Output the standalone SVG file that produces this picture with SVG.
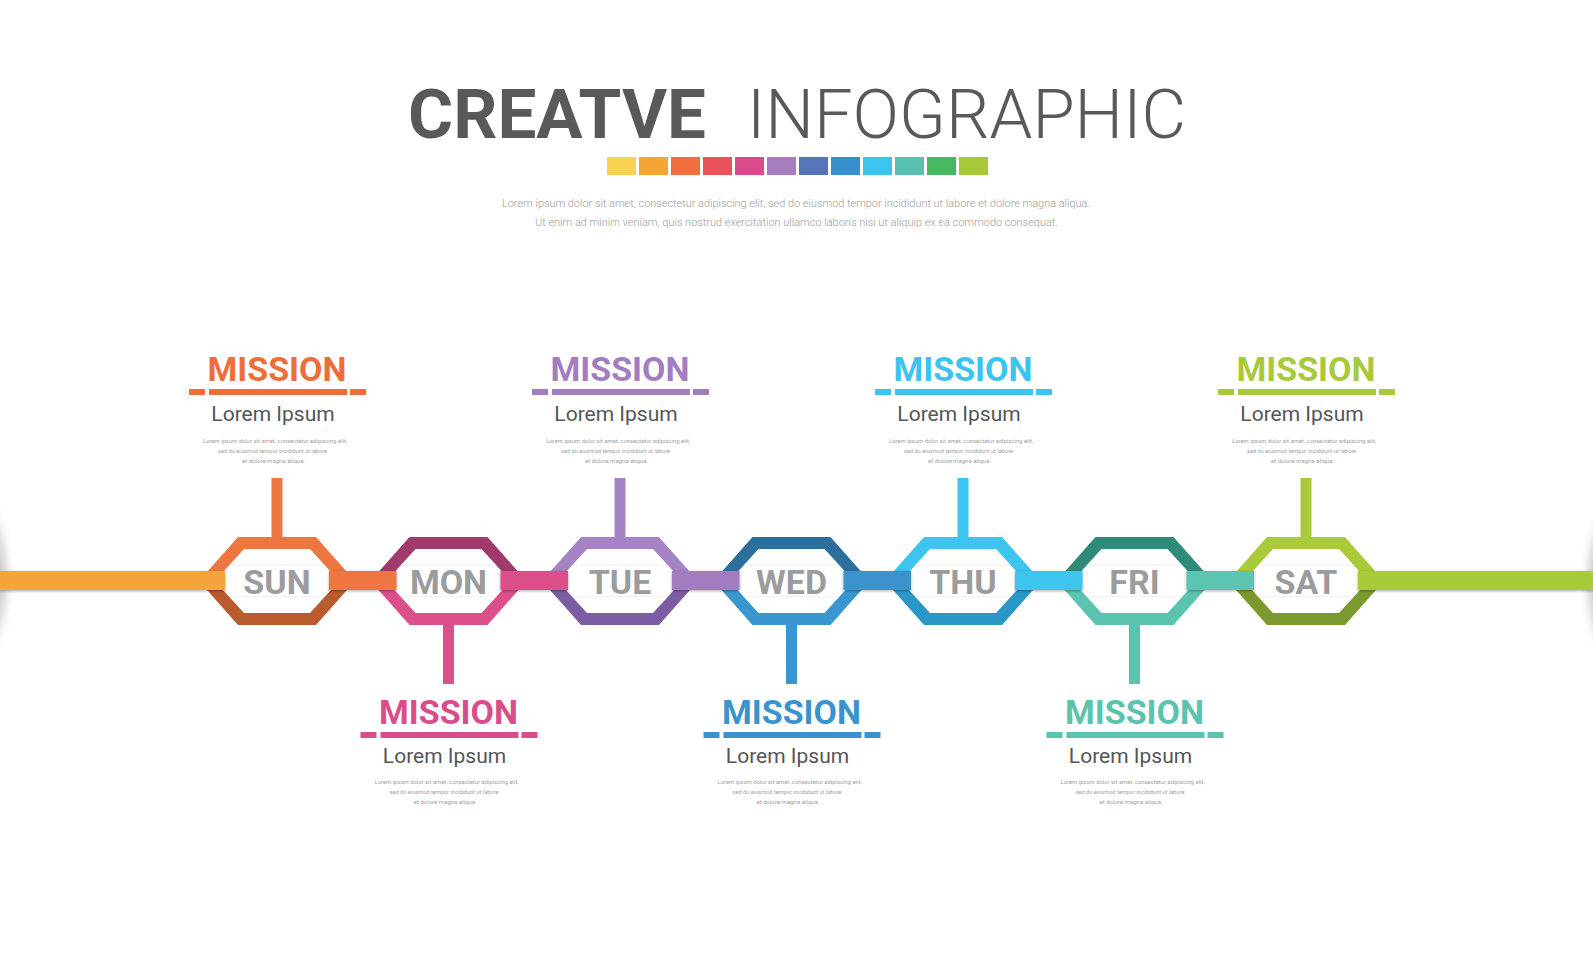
<svg xmlns="http://www.w3.org/2000/svg" width="1593" height="980" viewBox="0 0 1593 980">
<defs>
<filter id="sh" x="-20%" y="-50%" width="140%" height="200%"><feDropShadow dx="0" dy="1" stdDeviation="1.6" flood-color="#000" flood-opacity="0.35"/></filter>
<filter id="shb" x="-20%" y="-50%" width="140%" height="200%"><feDropShadow dx="0" dy="0" stdDeviation="1.2" flood-color="#000" flood-opacity="0.15"/></filter>
<radialGradient id="edge" cx="0.5" cy="0.5" r="0.5"><stop offset="0" stop-color="#8a8a8a" stop-opacity="0.8"/><stop offset="0.6" stop-color="#b5b5b5" stop-opacity="0.35"/><stop offset="1" stop-color="#ffffff" stop-opacity="0"/></radialGradient>
</defs>
<style>
.title{font-family:Roboto,"Liberation Sans",sans-serif;font-size:69px;fill:#58595b}
.para{font-family:Roboto,"Liberation Sans",sans-serif;font-size:11.5px;font-weight:300;fill:#9a9a9a;text-anchor:middle}
.day{font-family:Roboto,"Liberation Sans",sans-serif;font-size:34px;font-weight:700;fill:#9b9c9e;text-anchor:middle}
.mis{font-family:Roboto,"Liberation Sans",sans-serif;font-size:34px;font-weight:700;text-anchor:middle}
.lor{font-family:Roboto,"Liberation Sans",sans-serif;font-size:21px;fill:#555657;text-anchor:middle}
.sm{font-family:Roboto,"Liberation Sans",sans-serif;font-size:6px;fill:#a0a0a0;text-anchor:middle}
.box{fill:#fff;filter:url(#shb)}
.band{filter:url(#sh)}
</style>
<rect width="1593" height="980" fill="#fff"/>
<ellipse cx="-8" cy="578" rx="24" ry="85" fill="url(#edge)"/>
<ellipse cx="1601" cy="582" rx="22" ry="80" fill="url(#edge)"/>

<g id="title">
<text class="title" x="408" y="138" font-weight="700" textLength="298" lengthAdjust="spacingAndGlyphs">CREATVE</text>
<text class="title" x="747" y="138" font-weight="300" textLength="439" lengthAdjust="spacingAndGlyphs">INFOGRAPHIC</text>
<g id="swatches">
<rect x="607" y="157" width="29" height="18" fill="#f9d254"/>
<rect x="639" y="157" width="29" height="18" fill="#f4a536"/>
<rect x="671" y="157" width="29" height="18" fill="#ee6f3c"/>
<rect x="703" y="157" width="29" height="18" fill="#e9525a"/>
<rect x="735" y="157" width="29" height="18" fill="#db4a8a"/>
<rect x="767" y="157" width="29" height="18" fill="#a77dbf"/>
<rect x="799" y="157" width="29" height="18" fill="#5575b8"/>
<rect x="831" y="157" width="29" height="18" fill="#3590cb"/>
<rect x="863" y="157" width="29" height="18" fill="#3cc4ee"/>
<rect x="895" y="157" width="29" height="18" fill="#58c0af"/>
<rect x="927" y="157" width="29" height="18" fill="#47b862"/>
<rect x="959" y="157" width="29" height="18" fill="#a6ca3a"/>
</g>
<text class="para" x="796" y="207" textLength="588" lengthAdjust="spacingAndGlyphs">Lorem ipsum dolor sit amet, consectetur adipiscing elit, sed do eiusmod tempor incididunt ut labore et dolore magna aliqua.</text>
<text class="para" x="796.5" y="225.5" textLength="523" lengthAdjust="spacingAndGlyphs">Ut enim ad minim veniam, quis nostrud exercitation ullamco laboris nisi ut aliquip ex ea commodo consequat.</text>
</g>

<defs>
<polygon id="topHalf" points="-70,581 -70,572 -39,537 39,537 70,572 70,581 54,581 54,572 33,549 -33,549 -54,572 -54,581"/>
<polygon id="botHalf" points="-70,581 -70,590 -39,625 39,625 70,590 70,581 54,581 54,590 33,613 -33,613 -54,590 -54,581"/>
</defs>

<g id="node-sun" transform="translate(277,0)">
<rect x="-5.5" y="478" width="11" height="62" fill="#ee7640"/>
<use href="#topHalf" fill="#ee7640"/>
<use href="#botHalf" fill="#b95a2f"/>
<rect class="box" x="-52" y="566" width="104" height="30" rx="8"/>
<text class="day" x="0" y="593.5">SUN</text>
<text class="mis" x="0" y="381" fill="#ee6e3a">MISSION</text>
<rect x="-88" y="389" width="16" height="6" fill="#ee6e3a"/><rect x="-68" y="389" width="138" height="6" fill="#ee6e3a"/><rect x="73" y="389" width="16" height="6" fill="#ee6e3a"/>
<text class="lor" x="-4" y="421">Lorem Ipsum</text>
<text class="sm" x="-2" y="443" textLength="144" lengthAdjust="spacingAndGlyphs">Lorem ipsum dolor sit amet, consectetur adipiscing elit,</text>
<text class="sm" x="-4.5" y="453" textLength="109" lengthAdjust="spacingAndGlyphs">sed do eiusmod tempor incididunt ut labore</text>
<text class="sm" x="-3.5" y="463" textLength="63" lengthAdjust="spacingAndGlyphs">et dolore magna aliqua.</text>
</g>

<g id="node-mon" transform="translate(448.5,0)">
<rect x="-5.5" y="622" width="11" height="62" fill="#db4f8a"/>
<use href="#topHalf" fill="#a03a6c"/>
<use href="#botHalf" fill="#db4f8a"/>
<rect class="box" x="-52" y="566" width="104" height="30" rx="8"/>
<text class="day" x="0" y="593.5">MON</text>
<text class="mis" x="0" y="724" fill="#d94d8b">MISSION</text>
<rect x="-88" y="732" width="16" height="6" fill="#d94d8b"/><rect x="-68" y="732" width="138" height="6" fill="#d94d8b"/><rect x="73" y="732" width="16" height="6" fill="#d94d8b"/>
<text class="lor" x="-4" y="763">Lorem Ipsum</text>
<text class="sm" x="-2" y="784" textLength="144" lengthAdjust="spacingAndGlyphs">Lorem ipsum dolor sit amet, consectetur adipiscing elit,</text>
<text class="sm" x="-4.5" y="794" textLength="109" lengthAdjust="spacingAndGlyphs">sed do eiusmod tempor incididunt ut labore</text>
<text class="sm" x="-3.5" y="804" textLength="63" lengthAdjust="spacingAndGlyphs">et dolore magna aliqua.</text>
</g>

<g id="node-tue" transform="translate(620,0)">
<rect x="-5.5" y="478" width="11" height="62" fill="#a683c4"/>
<use href="#topHalf" fill="#a683c4"/>
<use href="#botHalf" fill="#7c5ca2"/>
<rect class="box" x="-52" y="566" width="104" height="30" rx="8"/>
<text class="day" x="0" y="593.5">TUE</text>
<text class="mis" x="0" y="381" fill="#a27dc0">MISSION</text>
<rect x="-88" y="389" width="16" height="6" fill="#a27dc0"/><rect x="-68" y="389" width="138" height="6" fill="#a27dc0"/><rect x="73" y="389" width="16" height="6" fill="#a27dc0"/>
<text class="lor" x="-4" y="421">Lorem Ipsum</text>
<text class="sm" x="-2" y="443" textLength="144" lengthAdjust="spacingAndGlyphs">Lorem ipsum dolor sit amet, consectetur adipiscing elit,</text>
<text class="sm" x="-4.5" y="453" textLength="109" lengthAdjust="spacingAndGlyphs">sed do eiusmod tempor incididunt ut labore</text>
<text class="sm" x="-3.5" y="463" textLength="63" lengthAdjust="spacingAndGlyphs">et dolore magna aliqua.</text>
</g>

<g id="node-wed" transform="translate(791.5,0)">
<rect x="-5.5" y="622" width="11" height="62" fill="#3a96d0"/>
<use href="#topHalf" fill="#2d6f9c"/>
<use href="#botHalf" fill="#3a96d0"/>
<rect class="box" x="-52" y="566" width="104" height="30" rx="8"/>
<text class="day" x="0" y="593.5">WED</text>
<text class="mis" x="0" y="724" fill="#3a93cd">MISSION</text>
<rect x="-88" y="732" width="16" height="6" fill="#3a93cd"/><rect x="-68" y="732" width="138" height="6" fill="#3a93cd"/><rect x="73" y="732" width="16" height="6" fill="#3a93cd"/>
<text class="lor" x="-4" y="763">Lorem Ipsum</text>
<text class="sm" x="-2" y="784" textLength="144" lengthAdjust="spacingAndGlyphs">Lorem ipsum dolor sit amet, consectetur adipiscing elit,</text>
<text class="sm" x="-4.5" y="794" textLength="109" lengthAdjust="spacingAndGlyphs">sed do eiusmod tempor incididunt ut labore</text>
<text class="sm" x="-3.5" y="804" textLength="63" lengthAdjust="spacingAndGlyphs">et dolore magna aliqua.</text>
</g>

<g id="node-thu" transform="translate(963,0)">
<rect x="-5.5" y="478" width="11" height="62" fill="#3dc5f0"/>
<use href="#topHalf" fill="#3dc5f0"/>
<use href="#botHalf" fill="#2a98c6"/>
<rect class="box" x="-52" y="566" width="104" height="30" rx="8"/>
<text class="day" x="0" y="593.5">THU</text>
<text class="mis" x="0" y="381" fill="#3cc3ee">MISSION</text>
<rect x="-88" y="389" width="16" height="6" fill="#3cc3ee"/><rect x="-68" y="389" width="138" height="6" fill="#3cc3ee"/><rect x="73" y="389" width="16" height="6" fill="#3cc3ee"/>
<text class="lor" x="-4" y="421">Lorem Ipsum</text>
<text class="sm" x="-2" y="443" textLength="144" lengthAdjust="spacingAndGlyphs">Lorem ipsum dolor sit amet, consectetur adipiscing elit,</text>
<text class="sm" x="-4.5" y="453" textLength="109" lengthAdjust="spacingAndGlyphs">sed do eiusmod tempor incididunt ut labore</text>
<text class="sm" x="-3.5" y="463" textLength="63" lengthAdjust="spacingAndGlyphs">et dolore magna aliqua.</text>
</g>

<g id="node-fri" transform="translate(1134.5,0)">
<rect x="-5.5" y="622" width="11" height="62" fill="#5bc4b0"/>
<use href="#topHalf" fill="#2e8b7a"/>
<use href="#botHalf" fill="#5bc4b0"/>
<rect class="box" x="-52" y="566" width="104" height="30" rx="8"/>
<text class="day" x="0" y="593.5">FRI</text>
<text class="mis" x="0" y="724" fill="#5bc4ae">MISSION</text>
<rect x="-88" y="732" width="16" height="6" fill="#5bc4ae"/><rect x="-68" y="732" width="138" height="6" fill="#5bc4ae"/><rect x="73" y="732" width="16" height="6" fill="#5bc4ae"/>
<text class="lor" x="-4" y="763">Lorem Ipsum</text>
<text class="sm" x="-2" y="784" textLength="144" lengthAdjust="spacingAndGlyphs">Lorem ipsum dolor sit amet, consectetur adipiscing elit,</text>
<text class="sm" x="-4.5" y="794" textLength="109" lengthAdjust="spacingAndGlyphs">sed do eiusmod tempor incididunt ut labore</text>
<text class="sm" x="-3.5" y="804" textLength="63" lengthAdjust="spacingAndGlyphs">et dolore magna aliqua.</text>
</g>

<g id="node-sat" transform="translate(1306,0)">
<rect x="-5.5" y="478" width="11" height="62" fill="#a9cb3a"/>
<use href="#topHalf" fill="#a9cb3a"/>
<use href="#botHalf" fill="#7a9a30"/>
<rect class="box" x="-52" y="566" width="104" height="30" rx="8"/>
<text class="day" x="0" y="593.5">SAT</text>
<text class="mis" x="0" y="381" fill="#a7c93a">MISSION</text>
<rect x="-88" y="389" width="16" height="6" fill="#a7c93a"/><rect x="-68" y="389" width="138" height="6" fill="#a7c93a"/><rect x="73" y="389" width="16" height="6" fill="#a7c93a"/>
<text class="lor" x="-4" y="421">Lorem Ipsum</text>
<text class="sm" x="-2" y="443" textLength="144" lengthAdjust="spacingAndGlyphs">Lorem ipsum dolor sit amet, consectetur adipiscing elit,</text>
<text class="sm" x="-4.5" y="453" textLength="109" lengthAdjust="spacingAndGlyphs">sed do eiusmod tempor incididunt ut labore</text>
<text class="sm" x="-3.5" y="463" textLength="63" lengthAdjust="spacingAndGlyphs">et dolore magna aliqua.</text>
</g>

<g id="connectors">
<rect class="band" x="0" y="571" width="225" height="19" fill="#f5a33b"/>
<rect class="band" x="329" y="571" width="67.5" height="19" fill="#ee7640"/>
<rect class="band" x="500.5" y="571" width="67.5" height="19" fill="#db4f8a"/>
<rect class="band" x="672" y="571" width="67.5" height="19" fill="#a47dc0"/>
<rect class="band" x="843.5" y="571" width="67.5" height="19" fill="#3a93cd"/>
<rect class="band" x="1015" y="571" width="67.5" height="19" fill="#3dc5f0"/>
<rect class="band" x="1186.5" y="571" width="67.5" height="19" fill="#5bc4b0"/>
<rect class="band" x="1358" y="571" width="235" height="19" fill="#a9cb3a"/>
</g>
</svg>
